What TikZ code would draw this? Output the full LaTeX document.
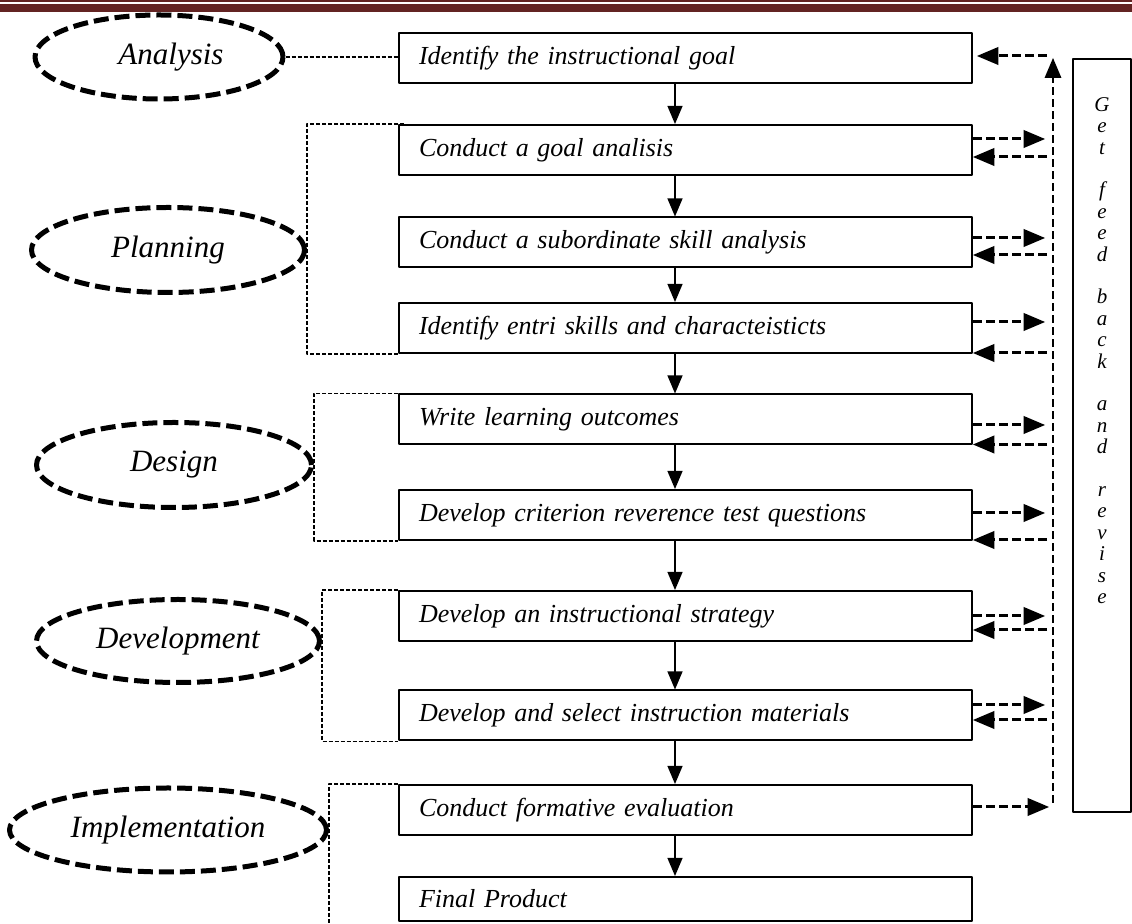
\documentclass[tikz,border=0pt]{standalone}
\usepackage{fontspec}
\setmainfont{Liberation Serif}
\usepackage{tikz}
\usetikzlibrary{arrows,shapes.geometric}
\definecolor{hdrred}{RGB}{99,36,35}
\tikzset{
stepbox/.style={draw,line width=1pt,rectangle,minimum height=25pt,text width=266.5pt,inner xsep=10pt,inner ysep=0pt,align=left,font=\fontsize{13}{15}\selectfont\itshape},
phase/.style={draw,ellipse,line width=2.5pt,line cap=butt,dash pattern=on 7.5pt off 3pt,inner sep=0pt,font=\fontsize{15.5}{18}\selectfont\itshape},
flow/.style={->,line width=1.1pt},
bracket/.style={line width=0.6pt,line cap=butt,dash pattern=on 2pt off 1pt},
fbline/.style={line width=1.3pt,line cap=butt,dash pattern=on 4pt off 2pt},
fbarrow/.style={->,line width=1.5pt,line cap=butt,dash pattern=on 4.5pt off 2pt}
}
\begin{document}
\begin{tikzpicture}[line cap=round,line join=round,>=triangle 45,x=0.5pt,y=-0.5pt]
\useasboundingbox (0,0) rectangle (1132,924);
\fill[hdrred] (0,4) rectangle (1132,12);
\draw[hdrred,line width=0.8pt] (0,1.2) -- (1132,1.2);
\node[stepbox] (b1) at (685.5,58) {Identify the instructional goal};
\node[stepbox] (b2) at (685.5,150) {Conduct a goal analisis};
\node[stepbox] (b3) at (685.5,242.5) {Conduct a subordinate skill analysis};
\node[stepbox] (b4) at (685.5,328) {Identify entri skills and characteisticts};
\node[stepbox] (b5) at (685.5,419.5) {Write learning outcomes};
\node[stepbox] (b6) at (685.5,515) {Develop criterion reverence test questions};
\node[stepbox] (b7) at (685.5,616) {Develop an instructional strategy};
\node[stepbox] (b8) at (685.5,715.5) {Develop and select instruction materials};
\node[stepbox] (b9) at (685.5,810) {Conduct formative evaluation};
\node[stepbox,minimum height=22pt] (b10) at (685.5,899) {Final Product};
\node[phase,minimum width=124pt,minimum height=42pt] (an) at (159,57) {\hspace*{12pt}Analysis};
\node[phase,minimum width=136.5pt,minimum height=42.5pt] (pl) at (168,250) {Planning};
\node[phase,minimum width=137.5pt,minimum height=42.5pt] (de) at (174,465) {Design};
\node[phase,minimum width=141.5pt,minimum height=41.5pt] (dv) at (178,641) {Development};
\node[phase,minimum width=158.5pt,minimum height=42pt] (im) at (168,830) {Implementation};
\node[draw,line width=0.8pt,minimum width=29pt,minimum height=376.5pt,inner sep=0pt] (fb) at (1102,435.5) {};
\node[anchor=north,align=center,inner sep=0pt,font=\fontsize{10.5}{10.7}\selectfont\itshape] (fbtext) at (1102,97) {G\\e\\t\\\mbox{}\\f\\e\\e\\d\\\mbox{}\\b\\a\\c\\k\\\mbox{}\\a\\n\\d\\\mbox{}\\r\\e\\v\\i\\s\\e};
\foreach \a/\b in {b1/b2,b2/b3,b3/b4,b4/b5,b5/b6,b6/b7,b7/b8,b8/b9,b9/b10}
\draw[flow] ([xshift=-5.25pt]\a.south) -- ([xshift=-5.25pt]\b.north);
\draw[bracket] (an.east) -- (an.east -| b1.west);
\draw[bracket] ([xshift=3pt]b2.north west) -| (pl.east) |- (b4.south west);
\draw[bracket] (b5.north west) -| (de.east) |- (b6.south west);
\draw[bracket] (b7.north west) -| (dv.east) |- (b8.south west);
\coordinate (imend) at (im.east |- 0,924);
\draw[bracket] (b9.north west) -| (imend);
\coordinate (fbtop) at (1053,58);
\coordinate (fbbot) at (1053,803);
\draw[fbline,->] (fbbot) -- (fbtop);
\path ([yshift=1pt]b1.east) coordinate (ib1);
\draw[fbarrow,shorten <=3pt,shorten >=2pt] (ib1 -| fbtop) -- (ib1);
\foreach \b/\o/\i in {b2/5.5/-3.5,b3/2.25/-6.25,b4/3/-12.5,b5/-2.75/-12.5,b6/1/-12.5,b7/0/-7,b8/5.25/-2.25}{
\path ([yshift=\o pt]\b.east) coordinate (o\b) ([yshift=\i pt]\b.east) coordinate (i\b);
\draw[fbarrow,shorten >=4pt] (o\b) -- (o\b -| fbtop);
\draw[fbarrow,shorten <=3pt] (i\b -| fbtop) -- (i\b);
}
\path ([yshift=1.5pt]b9.east) coordinate (ob9);
\draw[fbarrow,shorten >=2pt] (ob9) -- (ob9 -| fbtop);
\end{tikzpicture}
\end{document}
